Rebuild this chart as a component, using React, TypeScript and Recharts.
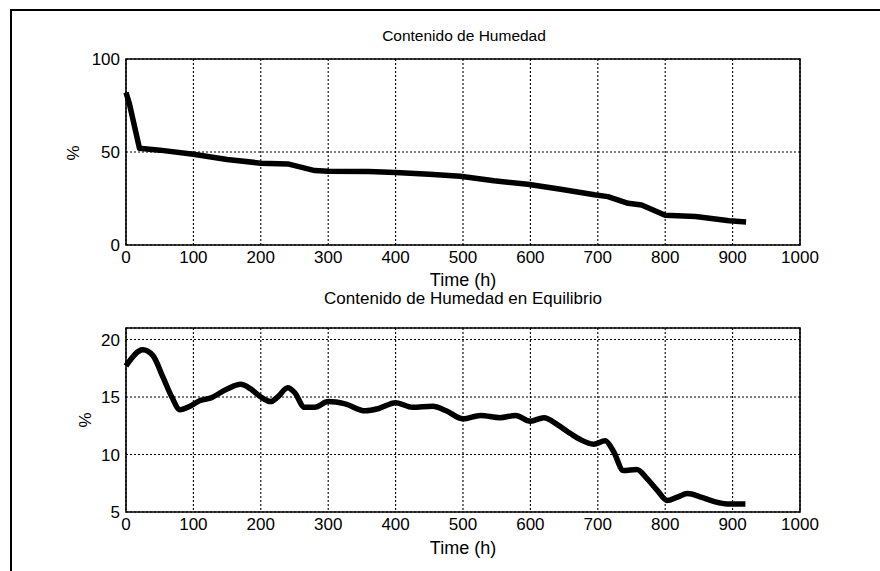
import { LineChart, Line, XAxis, YAxis, CartesianGrid, ReferenceArea } from 'recharts';

// Time axis ticks (h)
const timeTicks = [0, 100, 200, 300, 400, 500, 600, 700, 800, 900, 1000];

// Contenido de Humedad (%)
const humedadTime = [0, 5, 20, 50, 100, 150, 200, 240, 280, 300, 360, 400, 450, 496, 546, 596, 645, 695, 715, 745, 765, 800, 845, 895, 920];
const humedadValues = [82, 76, 52, 51, 48.8, 46, 44, 43.6, 40, 39.7, 39.5, 39, 38, 37, 34.5, 32.7, 30, 27, 26, 22.4, 21.5, 16, 15.3, 13, 12.4];
const humedadTicks = [0, 50, 100];

// Contenido de Humedad en Equilibrio (%)
const equilibrioTime = [0, 25, 40, 55, 68, 80, 95, 110, 125, 150, 170, 185, 200, 215, 225, 240, 250, 265, 280, 300, 325, 355, 375, 400, 425, 455, 475, 500, 526, 555, 578, 600, 620, 640, 660, 674, 694, 711, 723, 738, 758, 773, 788, 803, 818, 833, 853, 873, 892, 919];
const equilibrioValues = [17.7, 19.1, 18.6, 16.7, 15, 13.9, 14.2, 14.7, 14.9, 15.7, 16.1, 15.7, 15, 14.6, 15, 15.8, 15.4, 14.1, 14.1, 14.6, 14.4, 13.8, 14, 14.5, 14.1, 14.2, 13.8, 13.1, 13.4, 13.2, 13.4, 12.9, 13.2, 12.6, 11.8, 11.3, 10.9, 11.2, 10.3, 8.6, 8.7, 7.9, 6.9, 6.0, 6.3, 6.6, 6.3, 5.9, 5.7, 5.7];
const equilibrioTicks = [5, 10, 15, 20];

const humedadData = humedadTime.map((t, i) => ({ t, v: humedadValues[i] }));
const equilibrioData = equilibrioTime.map((t, i) => ({ t, v: equilibrioValues[i] }));

const FONT = '"Liberation Sans", Arial, sans-serif';
const tickStyle = { fill: '#000', fontSize: 17, fontFamily: FONT };

type PanelProps = {
    data: { t: number; v: number }[];
    yDomain: [number, number];
    yTicks: number[];
    height: number;
    margin: { top: number; right: number; bottom: number; left: number };
    curve: 'linear' | 'monotone';
};

// axes are 1px thick so they still render; margins are set so the plot box
// lands where the original MATLAB axes sit
const Panel = ({ data, yDomain, yTicks, height, margin, curve }: PanelProps) => (
    <LineChart width={880} height={height} data={data} margin={margin}>
        <CartesianGrid stroke="#000" strokeDasharray="2 2" strokeWidth={1.1} />
        <XAxis
            dataKey="t"
            type="number"
            domain={[0, 1000]}
            ticks={timeTicks}
            height={1}
            axisLine={false}
            tickLine={false}
            tickSize={5}
            tickMargin={1}
            tick={tickStyle}
        />
        <YAxis
            type="number"
            domain={yDomain}
            ticks={yTicks}
            width={1}
            axisLine={false}
            tickLine={false}
            tickSize={6}
            tickMargin={0}
            tick={tickStyle}
            allowDataOverflow
        />
        <ReferenceArea
            x1={0}
            x2={1000}
            y1={yDomain[0]}
            y2={yDomain[1]}
            fill="none"
            stroke="#000"
            strokeWidth={1.6}
            ifOverflow="visible"
        />
        <Line
            dataKey="v"
            type={curve}
            stroke="#000"
            strokeWidth={5.5}
            strokeLinejoin="round"
            dot={false}
            isAnimationActive={false}
        />
    </LineChart>
);

const textBase: React.CSSProperties = {
    position: 'absolute',
    fontFamily: FONT,
    color: '#000',
    whiteSpace: 'nowrap',
    transform: 'translate(-50%, -50%)',
    lineHeight: 1,
};

export default function App() {
    return (
        <div
            style={{
                position: 'absolute',
                left: 0,
                top: 0,
                width: 880,
                height: 571,
                background: '#fff',
                overflow: 'hidden',
            }}
        >
            {/* scanned page frame */}
            <div
                style={{
                    position: 'absolute',
                    left: 10,
                    top: 9,
                    right: 0,
                    bottom: 0,
                    borderTop: '2px solid #000',
                    borderLeft: '2px solid #000',
                }}
            />

            <div style={{ position: 'absolute', left: 0, top: 0 }}>
                <Panel
                    data={humedadData}
                    yDomain={[0, 100]}
                    yTicks={humedadTicks}
                    height={290}
                    margin={{ top: 59, right: 80, bottom: 44, left: 125 }}
                    curve="linear"
                />
            </div>
            <div style={{ position: 'absolute', left: 0, top: 290 }}>
                <Panel
                    data={equilibrioData}
                    yDomain={[5, 21]}
                    yTicks={equilibrioTicks}
                    height={281}
                    margin={{ top: 38, right: 80, bottom: 58, left: 125 }}
                    curve="monotone"
                />
            </div>

            <div style={{ ...textBase, left: 464, top: 36, fontSize: 15.5 }}>Contenido de Humedad</div>
            <div style={{ ...textBase, left: 463, top: 280, fontSize: 18 }}>Time (h)</div>
            <div style={{ ...textBase, left: 73, top: 153, fontSize: 17, transform: 'translate(-50%, -50%) rotate(-90deg)' }}>%</div>

            <div style={{ ...textBase, left: 463, top: 298, fontSize: 17 }}>Contenido de Humedad en Equilibrio</div>
            <div style={{ ...textBase, left: 463, top: 548, fontSize: 18 }}>Time (h)</div>
            <div style={{ ...textBase, left: 85, top: 420, fontSize: 17, transform: 'translate(-50%, -50%) rotate(-90deg)' }}>%</div>
        </div>
    );
}
